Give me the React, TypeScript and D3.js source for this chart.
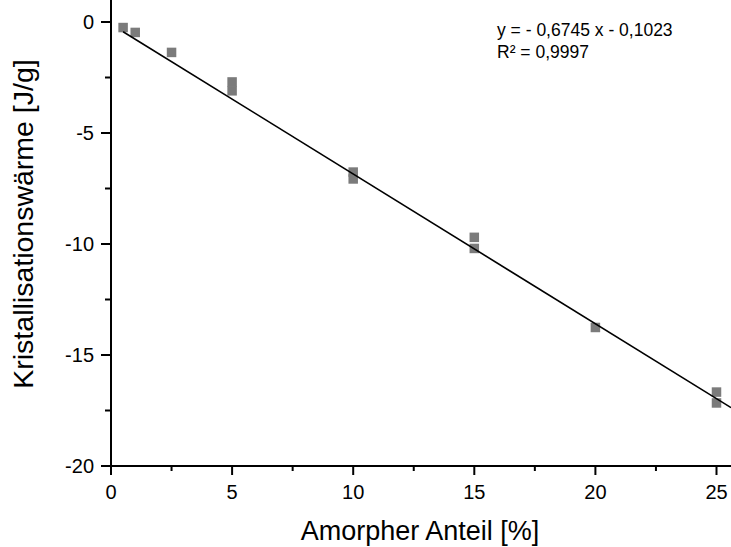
import React, { useEffect, useRef } from 'react';
import * as d3 from 'd3';

const anteil = [0.5, 1, 2.5, 5, 5, 10, 10, 15, 15, 20, 25, 25];
const waerme = [-0.25, -0.47, -1.37, -2.7, -3.1, -6.76, -7.07, -9.7, -10.2, -13.76, -16.67, -17.16];
const xTicks = [0, 5, 10, 15, 20, 25];
const yTicks = [0, -5, -10, -15, -20];
const slope = -0.6745;
const intercept = -0.1023;
const fitRange = [0.5, 25.6];
const equation = ['y = - 0,6745 x - 0,1023', 'R² = 0,9997'];

const App = () => {
  const chartRef = useRef<SVGSVGElement | null>(null);

  useEffect(() => {
    const width = 731;
    const height = 547;
    const left = 111;
    const top = 22;
    const bottom = 466;
    const font = 'Liberation Sans, Arial, sans-serif';

    const svg = d3.select(chartRef.current);
    svg.selectAll('*').remove();
    svg.attr('width', width).attr('height', height);

    svg.append('rect').attr('width', width).attr('height', height).attr('fill', '#fff');

    const xScale = d3.scaleLinear().domain([0, 25]).range([left, 716.5]);
    const yScale = d3.scaleLinear().domain([-20, 0]).range([bottom, top]);

    // minor ticks at halfway
    const xMinor = d3.range(2.5, 25.6, 5);
    const yMinor = d3.range(-17.5, 0, 5);

    const xAxis = svg.append('g').attr('transform', `translate(0, ${bottom})`);
    xAxis.append('line')
      .attr('x1', left).attr('x2', width)
      .attr('stroke', '#000').attr('stroke-width', 2);
    xAxis.selectAll('.major').data(xTicks).enter().append('line')
      .attr('x1', d => xScale(d)).attr('x2', d => xScale(d))
      .attr('y1', 0).attr('y2', 9)
      .attr('stroke', '#000').attr('stroke-width', 2);
    xAxis.selectAll('.minor').data(xMinor).enter().append('line')
      .attr('x1', d => xScale(d)).attr('x2', d => xScale(d))
      .attr('y1', 0).attr('y2', 5)
      .attr('stroke', '#000').attr('stroke-width', 2);
    xAxis.selectAll('text').data(xTicks).enter().append('text')
      .attr('x', d => xScale(d)).attr('y', 33)
      .attr('text-anchor', 'middle')
      .attr('font-family', font).attr('font-size', 20)
      .text(d => d);

    const yAxis = svg.append('g').attr('transform', `translate(${left}, 0)`);
    yAxis.append('line')
      .attr('y1', 0).attr('y2', bottom + 1)
      .attr('stroke', '#000').attr('stroke-width', 2);
    yAxis.selectAll('.major').data(yTicks).enter().append('line')
      .attr('y1', d => yScale(d)).attr('y2', d => yScale(d))
      .attr('x1', -10).attr('x2', 0)
      .attr('stroke', '#000').attr('stroke-width', 2);
    yAxis.selectAll('.minor').data(yMinor).enter().append('line')
      .attr('y1', d => yScale(d)).attr('y2', d => yScale(d))
      .attr('x1', -6).attr('x2', 0)
      .attr('stroke', '#000').attr('stroke-width', 2);
    yAxis.selectAll('text').data(yTicks).enter().append('text')
      .attr('x', -17).attr('y', d => yScale(d) + 7)
      .attr('text-anchor', 'end')
      .attr('font-family', font).attr('font-size', 20)
      .text(d => d);

    // axis titles
    svg.append('text')
      .attr('x', 420).attr('y', 540)
      .attr('text-anchor', 'middle')
      .attr('font-family', font).attr('font-size', 27)
      .text('Amorpher Anteil [%]');
    svg.append('text')
      .attr('transform', `translate(33, 224) rotate(-90)`)
      .attr('text-anchor', 'middle')
      .attr('font-family', font).attr('font-size', 28.5)
      .text('Kristallisationswärme [J/g]');

    // data points
    const size = 9.5;
    svg.selectAll('.pt').data(anteil).enter().append('rect')
      .attr('class', 'pt')
      .attr('x', d => xScale(d) - size / 2)
      .attr('y', (d, i) => yScale(waerme[i]) - size / 2)
      .attr('width', size).attr('height', size)
      .attr('fill', '#7b7b7b');

    // fit line
    const line = d3.line<number>()
      .x(d => xScale(d))
      .y(d => yScale(slope * d + intercept));
    svg.append('path')
      .datum(fitRange)
      .attr('d', line)
      .attr('fill', 'none')
      .attr('stroke', '#000')
      .attr('stroke-width', 1.6);

    svg.selectAll('.eq').data(equation).enter().append('text')
      .attr('x', 497).attr('y', (d, i) => 36 + i * 22)
      .attr('font-family', font).attr('font-size', 17.5)
      .text(d => d);
  }, []);

  return (
    <div style={{ position: 'absolute', left: 0, top: 0 }}>
      <svg ref={chartRef}></svg>
    </div>
  );
};

export default App;
